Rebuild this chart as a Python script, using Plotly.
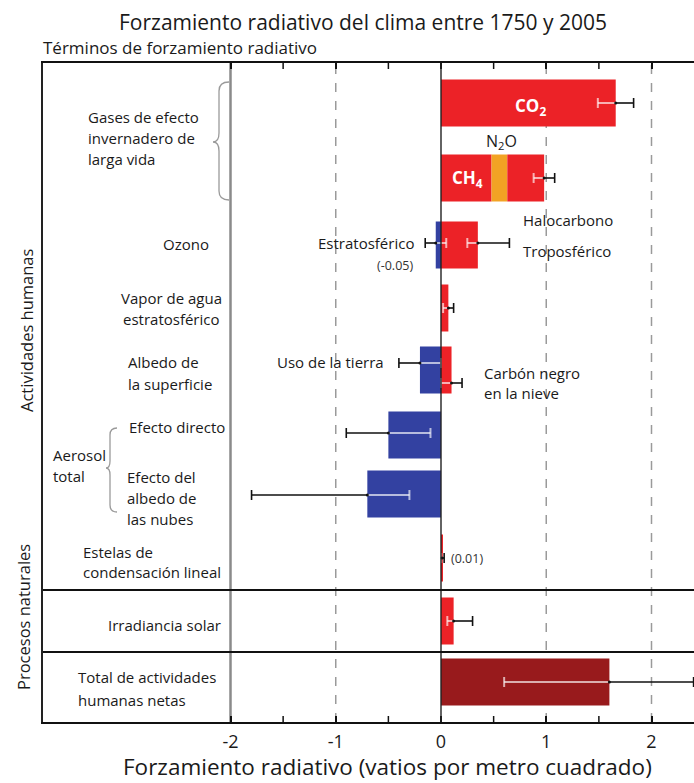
import plotly.graph_objects as go

# ------------------------------------------------------------------ data
terms = ["CO2", "CH4", "N2O", "Halocarbono",
         "Ozono estratosférico", "Ozono troposférico",
         "Vapor de agua estratosférico",
         "Uso de la tierra", "Carbón negro en la nieve",
         "Efecto directo", "Efecto del albedo de las nubes",
         "Estelas de condensación lineal",
         "Irradiancia solar",
         "Total de actividades humanas netas"]
forcing = [1.66, 0.48, 0.15, 0.35,
           -0.05, 0.35,
           0.07,
           -0.20, 0.10,
           -0.50, -0.70,
           0.01,
           0.12,
           1.60]
term_row = [0, 1, 1, 1, 2, 2, 3, 4, 4, 5, 6, 7, 8, 9]
term_kind = ["warm", "warm", "n2o", "warm", "cool", "warm", "warm",
             "cool", "warm", "cool", "cool", "warm", "warm", "net"]

# uncertainty ranges (best estimate, low, high) in W/m2
err_terms = ["CO2", "CH4+N2O+Halocarbono", "Ozono estratosférico", "Ozono troposférico",
             "Vapor de agua", "Uso de la tierra", "Carbón negro", "Efecto directo",
             "Albedo de las nubes", "Estelas", "Irradiancia solar", "Total"]
err_row = [0, 1, 2, 2, 3, 4, 4, 5, 6, 7, 8, 9]
err_best = [1.66, 0.98, -0.05, 0.35, 0.07, -0.20, 0.10, -0.50, -0.70, 0.01, 0.12, 1.60]
err_low = [1.49, 0.88, -0.15, 0.25, 0.02, -0.40, 0.00, -0.90, -1.80, 0.003, 0.06, 0.60]
err_high = [1.83, 1.08, 0.05, 0.65, 0.12, 0.00, 0.20, -0.10, -0.30, 0.03, 0.30, 2.40]

tick_values = [-2, -1, 0, 1, 2]
tick_labels = ["-2", "-1", "0", "1", "2"]
half_ticks = [-1.5, -0.5, 0.5, 1.5]

# ------------------------------------------------------------------ layout helpers
W, H = 694, 783
ML, MR, MT, MB = 43, 0, 63, 61
X0PX, PXU = 441.0, 105.25          # pixel of x=0, pixels per unit


def xd(px):
    return (px - X0PX) / PXU


def xp(px):
    return (px - ML) / (W - ML - MR)


def yp(py):
    return (H - MB - py) / (H - MT - MB)


row_y = [103, 178, 245, 308, 370, 435, 494, 558, 621, 682]
bar_h = 47
err_shift = [0, 0, -2, -2, 0, -7, 13, -2, 1, 0, 0, 0]

colors = {"warm": "#EC2227", "n2o": "#F2A324", "cool": "#3341A1", "net": "#981A1C"}

# stacked bases per row
pos_acc, neg_acc = {}, {}
bases, lengths, ys, cols = [], [], [], []
for v, r, k in zip(forcing, term_row, term_kind):
    if v >= 0:
        b = pos_acc.get(r, 0.0)
        pos_acc[r] = b + v
    else:
        b = neg_acc.get(r, 0.0) + v
        neg_acc[r] = b
        v = -v
    bases.append(b)
    lengths.append(v)
    ys.append(row_y[r])
    cols.append(colors[k])

fig = go.Figure()
fig.add_trace(go.Bar(
    orientation="h", x=lengths, base=bases, y=ys, width=bar_h,
    marker=dict(color=cols, line=dict(width=0)), hovertext=terms,
    textposition="none", hoverinfo="text", showlegend=False))

# error bars: inside-bar part light, outside part black
cap = 5
lx, ly, dx, dy = [], [], [], []
for r, c, lo, hi, s in zip(err_row, err_best, err_low, err_high, err_shift):
    y = row_y[r] + s
    if c >= 0:
        inner, outer = lo, hi
    else:
        inner, outer = hi, lo
    lx += [inner, c, None, inner, inner, None]
    ly += [y, y, None, y - cap, y + cap, None]
    dx += [c, outer, None, outer, outer, None]
    dy += [y, y, None, y - cap, y + cap, None]

fig.add_trace(go.Scatter(x=lx, y=ly, mode="lines", line=dict(color="rgba(255,255,255,0.65)", width=2),
                         hoverinfo="skip", showlegend=False))
fig.add_trace(go.Scatter(x=dx, y=dy, mode="lines", line=dict(color="#111111", width=1.6),
                         hoverinfo="skip", showlegend=False))
fig.add_trace(go.Scatter(x=err_best, y=[row_y[r] + s for r, s in zip(err_row, err_shift)],
                         mode="markers", marker=dict(color="#111111", size=3),
                         hoverinfo="skip", showlegend=False))

# ------------------------------------------------------------------ reference lines
shapes = []
shapes.append(dict(type="line", xref="x", yref="paper", x0=-2, x1=-2, y0=0, y1=1,
                   line=dict(color="#8a8a8a", width=2.5), layer="below"))
for gx in (-1, 1, 2):
    shapes.append(dict(type="line", xref="x", yref="paper", x0=gx, x1=gx, y0=0, y1=1,
                       line=dict(color="#9a9a9a", width=1.5, dash="dash"), layer="below"))
shapes.append(dict(type="line", xref="x", yref="paper", x0=0, x1=0, y0=0, y1=1,
                   line=dict(color="#222222", width=1.4), layer="above"))
for sy in (590, 652):
    shapes.append(dict(type="line", xref="paper", yref="y", x0=0, x1=1, y0=sy, y1=sy,
                       line=dict(color="#111111", width=2)))
# half-unit ticks on bottom and top axes
for hx in half_ticks:
    for ya, yb in ((H - MB, H - MB - 6), (MT, MT + 6)):
        shapes.append(dict(type="line", xref="x", yref="y", x0=hx, x1=hx, y0=ya, y1=yb,
                           line=dict(color="#111111", width=1.5)))


def brace(xr, xm, xt, yt, ymid, yb, r):
    return (f"M {xd(xr)},{yt} Q {xd(xm)},{yt} {xd(xm)},{yt + r} "
            f"L {xd(xm)},{ymid - r} Q {xd(xm)},{ymid} {xd(xt)},{ymid} "
            f"Q {xd(xm)},{ymid} {xd(xm)},{ymid + r} "
            f"L {xd(xm)},{yb - r} Q {xd(xm)},{yb} {xd(xr)},{yb}")


shapes.append(dict(type="path", xref="x", yref="y", path=brace(229, 219, 213, 82, 142, 200, 9),
                   line=dict(color="#9a9a9a", width=1.3)))
shapes.append(dict(type="path", xref="x", yref="y", path=brace(117, 110, 106, 428, 468, 512, 7),
                   line=dict(color="#9a9a9a", width=1.3)))

# ------------------------------------------------------------------ text
FONT = "Open Sans, Arial, sans-serif"
TXT = "#1a1a1a"
LBL = 15
ann = []


def label(text, x, y, anchor="left", size=LBL, color=TXT, angle=0):
    ann.append(dict(text=text, xref="paper", yref="paper", x=xp(x), y=yp(y),
                    xanchor=anchor, yanchor="middle", showarrow=False, textangle=angle,
                    font=dict(family=FONT, size=size, color=color)))


def block(lines, x, y0, step, anchor="left", size=LBL):
    for i, t in enumerate(lines):
        label(t, x, y0 + i * step, anchor, size)


block(["Gases de efecto", "invernadero de", "larga vida"], 86, 117, 21)
label("Ozono", 211, 244, "right")
block(["Vapor de agua", "estratosférico"], 171, 298, 21, "center")
block(["Albedo de", "la superficie"], 126, 362, 22)
label("Efecto directo", 127, 427)
block(["Aerosol", "total"], 51, 455, 21)
block(["Efecto del", "albedo de", "las nubes"], 125, 477, 21)
block(["Estelas de", "condensación lineal"], 81, 552, 20)
label("Irradiancia solar", 106, 625)
block(["Total de actividades", "humanas netas"], 76, 677, 23)

label("<b>CO<sub>2</sub></b>", 530, 106, "center", 17, "white")
label("<b>CH<sub>4</sub></b>", 467, 178, "center", 17, "white")
label("N<sub>2</sub>O", 501, 141, "center", 16)
label("Halocarbono", 521, 220)
label("Troposférico", 521, 251)
label("Estratosférico", 416, 243, "right")
label("(-0.05)", 415, 265, "right", 12.5, "#333333")
label("Uso de la tierra", 386, 362, "right")
block(["Carbón negro", "en la nieve"], 482, 373, 20)
label("(0.01)", 449, 558, "left", 12.5, "#333333")

label("Forzamiento radiativo del clima entre 1750 y 2005", 363, 22, "center", 21)
label("Términos de forzamiento radiativo", 41, 47, "left", 17)
label("Actividades humanas", 26, 330, "center", 16.5, TXT, -90)
label("Procesos naturales", 23, 617, "center", 16.5, TXT, -90)
label("Forzamiento radiativo (vatios por metro cuadrado)", 387, 766, "center", 22.5)

fig.update_layout(
    width=W, height=H, margin=dict(l=ML, r=MR, t=MT, b=MB, pad=0),
    paper_bgcolor="white", plot_bgcolor="white",
    barmode="overlay", showlegend=False,
    xaxis=dict(range=[xd(ML), xd(W - MR)], showgrid=False, zeroline=False,
               showline=True, linecolor="#111111", linewidth=2, mirror="allticks",
               ticks="inside", ticklen=6, tickwidth=1.5, tickcolor="#111111",
               tickmode="array", tickvals=tick_values, ticktext=tick_labels,
               ticklabelstandoff=2,
               tickfont=dict(family=FONT, size=18, color=TXT), fixedrange=True),
    yaxis=dict(range=[H - MB, MT], showgrid=False, zeroline=False,
               showline=True, linecolor="#222222", linewidth=1.6, mirror=False,
               showticklabels=False, ticks="", fixedrange=True),
    shapes=shapes, annotations=ann,
)

fig.write_html("out.html")
